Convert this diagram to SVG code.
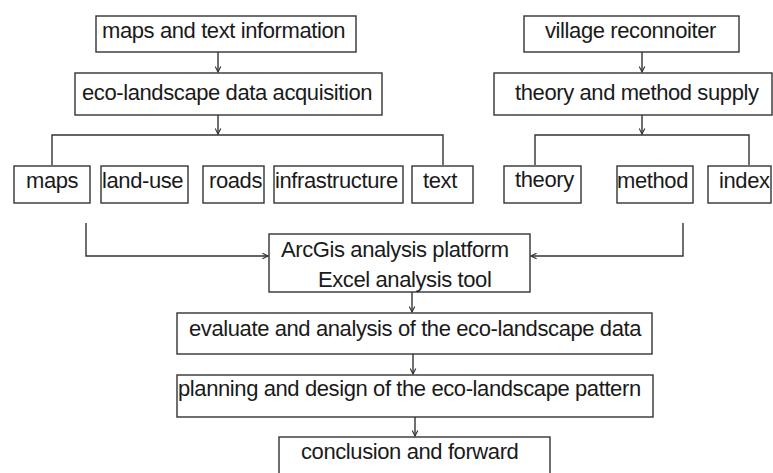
<svg xmlns="http://www.w3.org/2000/svg" width="773" height="473" viewBox="0 0 773 473">
<defs>
<style>
.box{fill:#fff;stroke:#333;stroke-width:1.4}
.t{font-family:"Liberation Sans",Arial,sans-serif;font-size:22px;letter-spacing:-0.4px;fill:#1a1a1a}
.ln{fill:none;stroke:#333;stroke-width:1.4}
</style>
<marker id="ah" viewBox="0 0 10 10" refX="9" refY="5" markerWidth="7" markerHeight="7" markerUnits="userSpaceOnUse" orient="auto">
<path d="M1,1 L9,5 L1,9" fill="none" stroke="#333" stroke-width="1.6"/>
</marker>
</defs>
<rect width="773" height="473" fill="#fff"/>
<g id="connectors">
<path class="ln" d="M218,52 V72" marker-end="url(#ah)"/>
<path class="ln" d="M218,115 V134" marker-end="url(#ah)"/>
<path class="ln" d="M52,165 V135 H443 V165"/>
<path class="ln" d="M642,52 V72" marker-end="url(#ah)"/>
<path class="ln" d="M642,115 V134" marker-end="url(#ah)"/>
<path class="ln" d="M535,165 V135 H749 V165"/>
<path class="ln" d="M86,223 V256 H268" marker-end="url(#ah)"/>
<path class="ln" d="M683,223 V256 H531" marker-end="url(#ah)"/>
<path class="ln" d="M412,292 V312" marker-end="url(#ah)"/>
<path class="ln" d="M413,354 V374" marker-end="url(#ah)"/>
<path class="ln" d="M415,417 V436" marker-end="url(#ah)"/>
</g>
<g id="n_maps_text"><rect class="box" x="96" y="16" width="260" height="36"/><text class="t" x="102" y="38">maps and text information</text></g>
<g id="n_acq"><rect class="box" x="75" y="73" width="307" height="42"/><text class="t" x="82" y="100">eco-landscape data acquisition</text></g>
<g id="n_village"><rect class="box" x="524" y="16" width="215" height="36"/><text class="t" x="545" y="38">village reconnoiter</text></g>
<g id="n_supply"><rect class="box" x="494" y="73" width="278" height="42"/><text class="t" x="515" y="100">theory and method supply</text></g>
<g id="n_maps"><rect class="box" x="14" y="166" width="76" height="37"/><text class="t" x="26" y="188">maps</text></g>
<g id="n_landuse"><rect class="box" x="101" y="166" width="87" height="37"/><text class="t" x="102" y="188">land-use</text></g>
<g id="n_roads"><rect class="box" x="203" y="166" width="61" height="37"/><text class="t" x="209" y="188">roads</text></g>
<g id="n_infra"><rect class="box" x="274" y="166" width="129" height="37"/><text class="t" x="275" y="188">infrastructure</text></g>
<g id="n_text"><rect class="box" x="412" y="166" width="61" height="37"/><text class="t" x="423" y="188">text</text></g>
<g id="n_theory"><rect class="box" x="504" y="166" width="77" height="37"/><text class="t" x="515" y="187">theory</text></g>
<g id="n_method"><rect class="box" x="617" y="166" width="76" height="37"/><text class="t" x="617" y="188">method</text></g>
<g id="n_index"><rect class="box" x="708" y="166" width="63" height="37"/><text class="t" x="719" y="188">index</text></g>
<g id="n_arcgis"><rect class="box" x="269" y="234" width="261" height="58"/><text class="t" x="281" y="257">ArcGis analysis platform</text><text class="t" x="318" y="287">Excel analysis tool</text></g>
<g id="n_eval"><rect class="box" x="177" y="313" width="475" height="41"/><text class="t" x="189" y="336">evaluate and analysis of the eco-landscape data</text></g>
<g id="n_plan"><rect class="box" x="177" y="375" width="476" height="42"/><text class="t" x="178" y="396">planning and design of the eco-landscape pattern</text></g>
<g id="n_concl"><rect class="box" x="279" y="437" width="271" height="40"/><text class="t" x="301" y="459">conclusion and forward</text></g>
</svg>
